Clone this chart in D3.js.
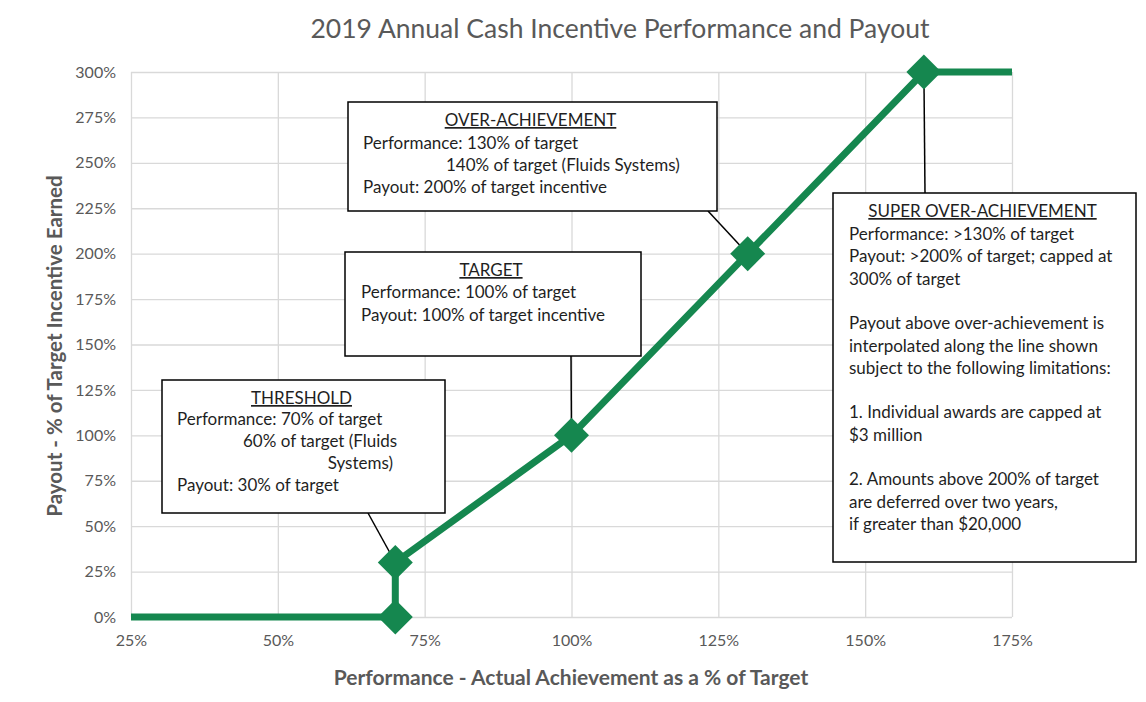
<!DOCTYPE html>
<html>
<head>
<meta charset="utf-8">
<title>2019 Annual Cash Incentive Performance and Payout</title>
<script src="https://cdn.jsdelivr.net/npm/d3@7"></script>
<style>
  body { margin: 0; background: #fff; }
  text { font-family: Lato, "Open Sans", sans-serif; }
  .tick text { fill: #595959; font-size: 16px; }
  .grid line { stroke: #d9d9d9; stroke-width: 1.3; }
  .grid path { display: none; }
  .box text { fill: #1f1f1f; font-size: 17px; }
</style>
</head>
<body>
<script>
// data
var perf   = [25, 70, 70, 100, 130, 160, 175];   // x, % of target
var payout = [0, 0, 30, 100, 200, 300, 300];     // y, % of target incentive
var markerIdx = [1, 2, 3, 4, 5];                 // points that carry a diamond
var xTicks = [25, 50, 75, 100, 125, 150, 175];
var yTicks = [0, 25, 50, 75, 100, 125, 150, 175, 200, 225, 250, 275, 300];

var noteTitles = ['THRESHOLD', 'TARGET', 'OVER-ACHIEVEMENT', 'SUPER OVER-ACHIEVEMENT'];
var noteLines = [
  ['Performance: 70% of target', '60% of target (Fluids', 'Systems)', 'Payout: 30% of target'],
  ['Performance: 100% of target', 'Payout: 100% of target incentive'],
  ['Performance: 130% of target', '140% of target (Fluids Systems)', 'Payout: 200% of target incentive'],
  ['Performance: >130% of target', 'Payout: >200% of target; capped at', '300% of target', '',
   'Payout above over-achievement is', 'interpolated along the line shown', 'subject to the following limitations:', '',
   '1. Individual awards are capped at', '$3 million', '',
   '2. Amounts above 200% of target', 'are deferred over two years,', 'if greater than $20,000']
];
var notePoint = [2, 3, 4, 5];  // which data point each note points at

var w = 1146, h = 702;
var margin = {left: 131, right: 134, top: 72, bottom: 85};
var green = '#15874f';

var svg = d3.select('body').append('svg').attr('width', w).attr('height', h);

var x = d3.scaleLinear().domain([25, 175]).range([margin.left, w - margin.right]);
var y = d3.scaleLinear().domain([0, 300]).range([h - margin.bottom, margin.top]);

// gridlines
svg.append('g').attr('class', 'grid')
  .attr('transform', 'translate(0,' + (h - margin.bottom) + ')')
  .call(d3.axisBottom(x).tickValues(xTicks).tickSize(-(h - margin.top - margin.bottom)).tickFormat(''));
svg.append('g').attr('class', 'grid')
  .attr('transform', 'translate(' + margin.left + ',0)')
  .call(d3.axisLeft(y).tickValues(yTicks).tickSize(-(w - margin.left - margin.right)).tickFormat(''));

// tick labels
var xAxis = svg.append('g')
  .attr('transform', 'translate(0,' + (h - margin.bottom) + ')')
  .call(d3.axisBottom(x).tickValues(xTicks).tickSize(0).tickPadding(18).tickFormat(function(d) { return d + '%'; }));
xAxis.select('.domain').remove();
var yAxis = svg.append('g')
  .attr('transform', 'translate(' + margin.left + ',0)')
  .call(d3.axisLeft(y).tickValues(yTicks).tickSize(0).tickPadding(15).tickFormat(function(d) { return d + '%'; }));
yAxis.select('.domain').remove();

// title and axis titles
svg.append('text').attr('x', 620).attr('y', 38).attr('text-anchor', 'middle')
  .attr('font-size', 26.5).attr('fill', '#595959')
  .text('2019 Annual Cash Incentive Performance and Payout');
svg.append('text').attr('x', 571).attr('y', 685).attr('text-anchor', 'middle')
  .attr('font-size', 21).attr('font-weight', 'bold').attr('fill', '#595959')
  .text('Performance - Actual Achievement as a % of Target');
svg.append('text').attr('transform', 'translate(62,' + 346 + ')rotate(-90)').attr('text-anchor', 'middle')
  .attr('font-size', 20.5).attr('font-weight', 'bold').attr('fill', '#595959')
  .text('Payout - % of Target Incentive Earned');

// the payout line
var pts = perf.map(function(p, i) { return {x: p, y: payout[i]}; });
var line = d3.line().x(function(d) { return x(d.x); }).y(function(d) { return y(d.y); });

// note boxes (pixel layout)
var boxes = [
  {x: 162, y: 380, w: 283, h: 133, tx: 177, anchor: [368, 513], lines: [
    {dx: 0, dy: 45}, {dx: 66, dy: 67}, {dx: 216, dy: 89, end: true}, {dx: 0, dy: 111}]},
  {x: 345, y: 252, w: 296, h: 104, tx: 361, anchor: [571, 356], lines: [
    {dx: 0, dy: 46}, {dx: 0, dy: 69}]},
  {x: 348, y: 102, w: 369, h: 109, tx: 363, anchor: [708, 211], lines: [
    {dx: 0, dy: 47}, {dx: 83, dy: 69}, {dx: 0, dy: 91}]},
  {x: 833, y: 193, w: 303, h: 369, tx: 849, anchor: [925, 193], lines: null}
];

// connectors go underneath the line
boxes.forEach(function(b, i) {
  var p = pts[notePoint[i]];
  svg.append('line')
    .attr('x1', b.anchor[0]).attr('y1', b.anchor[1])
    .attr('x2', x(p.x)).attr('y2', y(p.y))
    .attr('stroke', '#000').attr('stroke-width', 1.5);
});

svg.append('path').datum(pts)
  .attr('fill', 'none').attr('stroke', green).attr('stroke-width', 7)
  .attr('d', line);

svg.append('g').selectAll('path').data(markerIdx).enter().append('path')
  .attr('d', d3.symbol().type(d3.symbolDiamond2).size(780))
  .attr('transform', function(i) { return 'translate(' + x(pts[i].x) + ',' + y(pts[i].y) + ')'; })
  .attr('fill', green);

boxes.forEach(function(b, i) {
  var g = svg.append('g').attr('class', 'box');
  g.append('rect').attr('x', b.x).attr('y', b.y).attr('width', b.w).attr('height', b.h)
    .attr('fill', '#fff').attr('stroke', '#000').attr('stroke-width', 1.5);
  g.append('text').attr('x', b.x + b.w / 2 - 2).attr('y', b.y + 24).attr('text-anchor', 'middle')
    .attr('text-decoration', 'underline').text(noteTitles[i]);
  noteLines[i].forEach(function(s, j) {
    var l = b.lines ? b.lines[j] : {dx: 0, dy: 47 + j * 22.3};
    var t = g.append('text').attr('y', b.y + l.dy).text(s);
    if (l.end) t.attr('x', b.tx + l.dx).attr('text-anchor', 'end');
    else t.attr('x', b.tx + l.dx);
  });
});
</script>
</body>
</html>
